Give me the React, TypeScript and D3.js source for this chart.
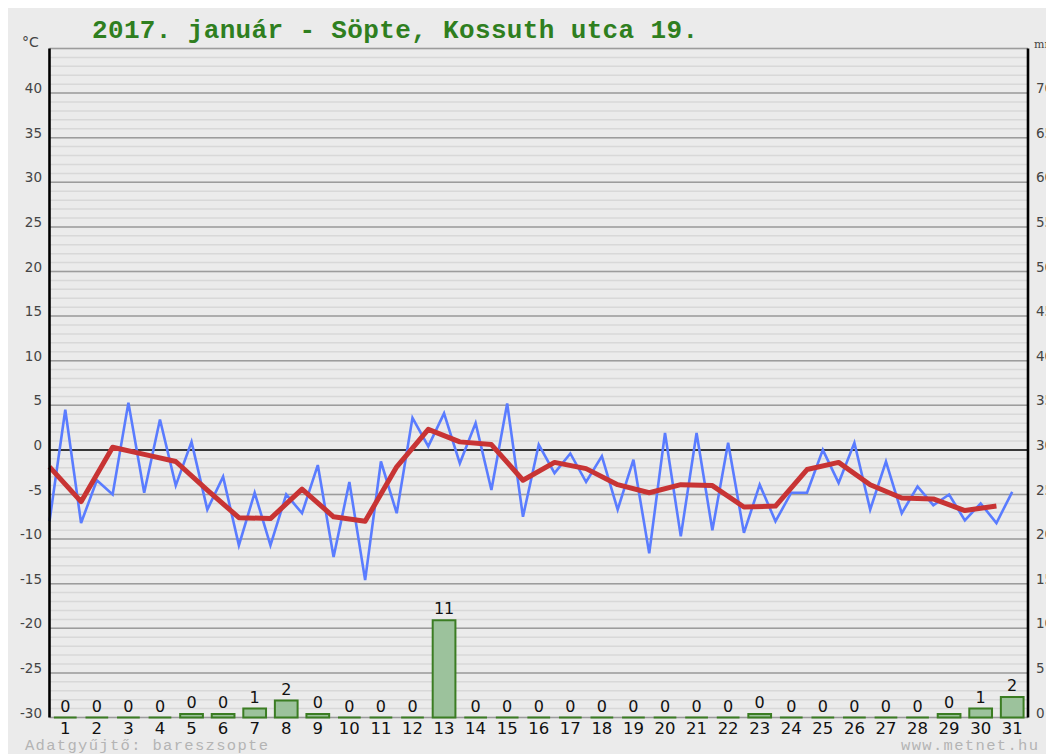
import * as d3 from "d3";

// day labels on the x axis
const days = [
  1, 2, 3, 4, 5, 6, 7, 8, 9, 10, 11, 12, 13, 14, 15, 16, 17, 18, 19, 20, 21,
  22, 23, 24, 25, 26, 27, 28, 29, 30, 31,
];

// twice-daily temperature readings (°C)
const tempReadings = [
  -8.0, 4.5, -8.2, -3.4, -5.0, 5.3, -4.8, 3.4, -4.0, 0.9, -6.7, -3.0, -10.7,
  -4.8, -10.7, -5.0, -7.1, -1.7, -12.0, -3.6, -14.6, -1.3, -7.1, 3.6, 0.4, 4.1,
  -1.5, 3.0, -4.5, 5.2, -7.5, 0.6, -2.6, -0.4, -3.6, -0.7, -6.7, -1.1, -11.6,
  1.9, -9.7, 1.9, -9.0, 0.8, -9.3, -3.9, -8.0, -4.8, -4.8, 0.0, -3.7, 0.8,
  -6.7, -1.3, -7.1, -4.1, -6.2, -5.0, -7.9, -6.0, -8.2, -4.7,
];

// daily mean temperature (°C)
const dailyMean = [
  -1.9, -5.8, 0.3, -0.5, -1.3, -4.5, -7.6, -7.7, -4.4, -7.5, -8.0, -1.9, 2.3,
  0.9, 0.6, -3.4, -1.4, -2.1, -3.9, -4.8, -3.9, -4.0, -6.4, -6.3, -2.2, -1.4,
  -3.9, -5.4, -5.5, -6.8, -6.3,
];

// daily precipitation (mm)
const precip = [
  0, 0, 0, 0, 0.4, 0.4, 1.0, 1.9, 0.4, 0, 0, 0, 10.9, 0, 0, 0, 0, 0, 0, 0, 0,
  0, 0.4, 0, 0, 0, 0, 0, 0.4, 1.0, 2.3,
];

const tempTicks = [-30, -25, -20, -15, -10, -5, 0, 5, 10, 15, 20, 25, 30, 35, 40];
const mmTicks = [0, 5, 10, 15, 20, 25, 30, 35, 40, 45, 50, 55, 60, 65, 70];

const title = "2017. január - Söpte, Kossuth utca 19.";

export default function App() {
  // page coordinates; the svg sits inside the 8px body margin
  const left = 49.5;
  const right = 1028;
  const top = 48.5;
  const bottom = 717.5;

  const y = d3.scaleLinear().domain([-30, 45]).range([bottom, top]);
  const yMm = d3.scaleLinear().domain([0, 75]).range([bottom, top]);
  const xDay = d3.scaleLinear().domain([0, 31]).range([left, right]);
  const xBand = d3
    .scaleBand<number>()
    .domain(days)
    .range([left, right])
    .paddingInner(0.28)
    .paddingOuter(0.14);

  const minor = d3.range(-30, 46, 1);
  const major = d3.range(-30, 46, 5);

  const readingLine = d3
    .line<number>()
    .x((_, i) => xDay(i / 2))
    .y((d) => y(d));
  const meanLine = d3
    .line<number>()
    .x((_, i) => xDay(i))
    .y((d) => y(d));

  const sans = "'DejaVu Sans', Verdana, sans-serif";
  const mono = "'Liberation Mono', 'Courier New', monospace";

  return (
    <>
      <style>{"html,body{overflow:hidden}"}</style>
      <svg width={1046} height={746} style={{ display: "block" }}>
        <g transform="translate(-8,-8)">
          <rect x={8} y={8} width={1046} height={746} fill="#ebebeb" />

          {minor.map((t) => (
            <line
              key={"mi" + t}
              x1={left}
              x2={right}
              y1={y(t)}
              y2={y(t)}
              stroke="#d8d8d8"
              strokeWidth={1.5}
            />
          ))}
          {major.map((t) => (
            <line
              key={"ma" + t}
              x1={left}
              x2={right}
              y1={y(t)}
              y2={y(t)}
              stroke={t === 0 ? "#000" : "#9c9c9c"}
              strokeWidth={1.5}
            />
          ))}

          {/* precipitation bars */}
          {precip.map((v, i) => {
            const x0 = xBand(days[i])!;
            const x1 = x0 + xBand.bandwidth();
            const y0 = yMm(0);
            const y1 = yMm(v);
            return (
              <g key={"b" + i}>
                <path
                  d={`M${x0},${y0}H${x1}V${y1}H${x0}Z`}
                  fill="#9cc29c"
                  stroke="#3b7d23"
                  strokeWidth={2}
                />
                <text
                  x={x0 + xBand.bandwidth() / 2}
                  y={y1 - 6}
                  textAnchor="middle"
                  fontFamily={sans}
                  fontSize={16}
                  fill="#111"
                >
                  {Math.round(v)}
                </text>
              </g>
            );
          })}

          <path
            d={readingLine(tempReadings)!}
            fill="none"
            stroke="#5a7cff"
            strokeWidth={2.6}
            strokeLinejoin="miter"
          />
          <path
            d={meanLine(dailyMean)!}
            fill="none"
            stroke="#c83434"
            strokeWidth={5}
            strokeLinejoin="round"
          />

          <line x1={left} x2={left} y1={top} y2={bottom} stroke="#000" strokeWidth={2.6} />
          <line x1={right} x2={right} y1={top} y2={bottom} stroke="#000" strokeWidth={2.6} />

          {tempTicks.map((t) => (
            <text
              key={"tl" + t}
              x={42}
              y={y(t)}
              textAnchor="end"
              fontFamily={sans}
              fontSize={13.5}
              fill="#444"
            >
              {t}
            </text>
          ))}
          {mmTicks.map((t) => (
            <text
              key={"mm" + t}
              x={1036}
              y={yMm(t)}
              fontFamily={sans}
              fontSize={13.5}
              fill="#444"
            >
              {t}
            </text>
          ))}
          <text x={22} y={47} fontFamily={sans} fontSize={14} fill="#444">
            °C
          </text>
          <text x={1034} y={48} fontFamily="'DejaVu Serif', serif" fontSize={11} fill="#444">
            mm
          </text>

          {days.map((d) => (
            <text
              key={"d" + d}
              x={xBand(d)! + xBand.bandwidth() / 2}
              y={734}
              textAnchor="middle"
              fontFamily={sans}
              fontSize={16.5}
              fill="#111"
            >
              {d}
            </text>
          ))}

          <text
            x={92}
            y={38}
            fontFamily={mono}
            fontSize={26}
            fontWeight="bold"
            fill="#2f7f1f"
            textLength={606}
          >
            {title}
          </text>
          <text x={25} y={749.5} fontFamily={mono} fontSize={15.5} fill="#b4b4b4" textLength={243}>
            Adatgyűjtő: bareszsopte
          </text>
          <text x={901} y={749.5} fontFamily={mono} fontSize={15.5} fill="#b4b4b4" textLength={137}>
            www.metnet.hu
          </text>
        </g>
      </svg>
    </>
  );
}
